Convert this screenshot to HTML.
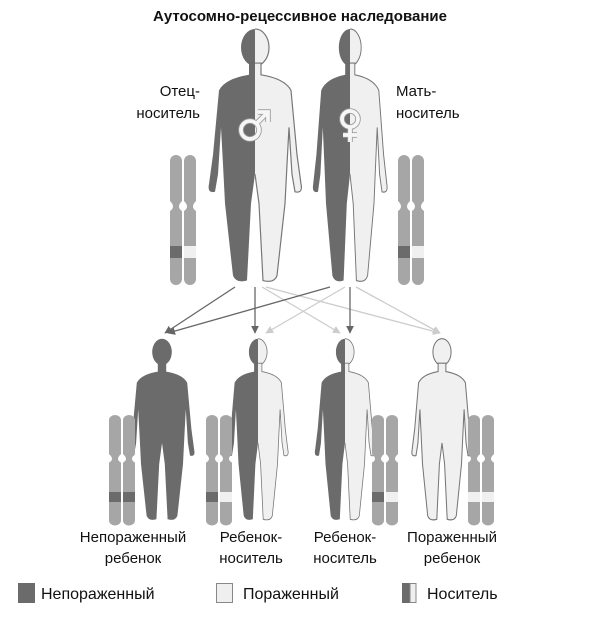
<!DOCTYPE html>
<html><head><meta charset="utf-8"><style>
html,body{margin:0;padding:0;background:#fff}
svg{display:block}
text{font-family:"Liberation Sans",sans-serif;fill:#111}
</style></head><body>
<svg width="600" height="620" viewBox="0 0 600 620" xmlns="http://www.w3.org/2000/svg">
<defs>
<g id="body">
<ellipse cx="0" cy="20" rx="14" ry="19"/>
<path d="M -6,36 L -6,48 Q -30,52 -36,64 L -42,130 L -46,160 Q -48,170 -40,168 L -37,150 L -34,102 L -32,140 L -30,180 L -22,254 Q -19,262 -8,259 L -4,180 L 0,150 L 4,180 L 8,259 Q 19,262 22,254 L 30,180 L 32,140 L 34,102 L 37,150 L 40,168 Q 48,170 46,160 L 42,130 L 36,64 Q 30,52 6,48 L 6,36 Z"/>
</g>
<clipPath id="L"><rect x="-100" y="-10" width="100" height="300"/></clipPath>
<clipPath id="R"><rect x="0" y="-10" width="100" height="300"/></clipPath>
<g id="half">
<g clip-path="url(#L)" fill="#6b6b6b"><use href="#body"/></g>
<g clip-path="url(#R)" fill="#f0f0f0" stroke="#777" stroke-width="1.2"><use href="#body"/></g>
</g>
<g id="chr">
<path d="M0,6 a6,6 0 0 1 12,0 V46 Q6,52 12,56 V124 a6,6 0 0 1 -12,0 V56 Q6,52 0,46 Z" fill="#a6a6a6"/>
</g>
<g id="sym">
<circle cx="250" cy="130" r="9"/>
<line x1="257" y1="123" x2="267" y2="113"/>
<path d="M258,112 L268,112 L268,122"/>
<circle cx="350" cy="119" r="8"/>
<line x1="350" y1="127" x2="350" y2="142"/>
<line x1="343" y1="135" x2="357" y2="135"/>
</g>
<marker id="ad" viewBox="0 0 10 10" refX="9" refY="5" markerWidth="6" markerHeight="6" orient="auto"><path d="M0,0 L10,5 L0,10 Z" fill="#666"/></marker>
<marker id="al" viewBox="0 0 10 10" refX="9" refY="5" markerWidth="6" markerHeight="6" orient="auto"><path d="M0,0 L10,5 L0,10 Z" fill="#ccc"/></marker>
</defs>

<text x="300" y="21" text-anchor="middle" font-size="15" font-weight="bold">Аутосомно-рецессивное наследование</text>
<text x="200" y="96" text-anchor="end" font-size="15">Отец-</text>
<text x="200" y="118" text-anchor="end" font-size="15">носитель</text>
<text x="396" y="96" font-size="15">Мать-</text>
<text x="396" y="118" font-size="15">носитель</text>

<!-- parents -->
<g transform="translate(255,28) scale(1,0.975)"><use href="#half"/></g>
<g transform="translate(350,28) scale(0.8,0.975)"><use href="#half"/></g>
<g stroke="#9a9a9a" stroke-width="5.5" fill="none"><use href="#sym"/></g>
<g stroke="#f6f6f6" stroke-width="3.8" fill="none"><use href="#sym"/></g>

<!-- parent chromosomes -->
<g transform="translate(170,155)"><use href="#chr"/><use href="#chr" x="14"/></g>
<rect x="170" y="246" width="12" height="12" fill="#6b6b6b"/><rect x="184" y="246" width="12" height="12" fill="#f0f0f0"/>
<g transform="translate(398,155)"><use href="#chr"/><use href="#chr" x="14"/></g>
<rect x="398" y="246" width="12" height="12" fill="#6b6b6b"/><rect x="412" y="246" width="12" height="12" fill="#f0f0f0"/>

<!-- arrows light -->
<g stroke="#ccc" stroke-width="1.3" marker-end="url(#al)" fill="none">
<line x1="262" y1="287" x2="340" y2="333"/>
<line x1="266" y1="287" x2="440" y2="333"/>
<line x1="345" y1="287" x2="266" y2="333"/>
<line x1="356" y1="287" x2="440" y2="333"/>
</g>
<g stroke="#666" stroke-width="1.3" marker-end="url(#ad)" fill="none">
<line x1="235" y1="287" x2="165" y2="333"/>
<line x1="255" y1="287" x2="255" y2="333"/>
<line x1="330" y1="287" x2="168" y2="333"/>
<line x1="350" y1="287" x2="350" y2="333"/>
</g>

<!-- children -->
<g transform="translate(162,338) scale(0.7)" fill="#6b6b6b"><use href="#body"/></g>
<g transform="translate(258,338) scale(0.65,0.7)"><use href="#half"/></g>
<g transform="translate(345,338) scale(0.65,0.7)"><use href="#half"/></g>
<g transform="translate(442,338) scale(0.65,0.7)" fill="#f0f0f0" stroke="#777" stroke-width="1.6"><use href="#body"/></g>

<!-- child chromosomes -->
<g transform="translate(109,415) scale(1,0.85)"><use href="#chr"/><use href="#chr" x="14"/></g>
<rect x="109" y="492" width="12" height="10" fill="#6b6b6b"/><rect x="123" y="492" width="12" height="10" fill="#6b6b6b"/>
<g transform="translate(206,415) scale(1,0.85)"><use href="#chr"/><use href="#chr" x="14"/></g>
<rect x="206" y="492" width="12" height="10" fill="#6b6b6b"/><rect x="220" y="492" width="12" height="10" fill="#f0f0f0"/>
<g transform="translate(372,415) scale(1,0.85)"><use href="#chr"/><use href="#chr" x="14"/></g>
<rect x="372" y="492" width="12" height="10" fill="#6b6b6b"/><rect x="386" y="492" width="12" height="10" fill="#f0f0f0"/>
<g transform="translate(468,415) scale(1,0.85)"><use href="#chr"/><use href="#chr" x="14"/></g>
<rect x="468" y="492" width="12" height="10" fill="#f0f0f0"/><rect x="482" y="492" width="12" height="10" fill="#f0f0f0"/>

<!-- labels -->
<g font-size="15" text-anchor="middle">
<text x="133" y="542">Непораженный</text><text x="133" y="563">ребенок</text>
<text x="251" y="542">Ребенок-</text><text x="251" y="563">носитель</text>
<text x="345" y="542">Ребенок-</text><text x="345" y="563">носитель</text>
<text x="452" y="542">Пораженный</text><text x="452" y="563">ребенок</text>
</g>

<!-- legend -->
<rect x="18" y="583" width="17" height="20" fill="#6b6b6b"/>
<text x="41" y="599" font-size="16">Непораженный</text>
<rect x="216.5" y="583.5" width="16" height="19" fill="#efefef" stroke="#888"/>
<text x="243" y="599" font-size="16">Пораженный</text>
<rect x="402" y="583" width="8" height="20" fill="#6b6b6b"/>
<rect x="410" y="583.5" width="6" height="19" fill="#efefef" stroke="#888"/>
<text x="427" y="599" font-size="16">Носитель</text>
</svg>
</body></html>
